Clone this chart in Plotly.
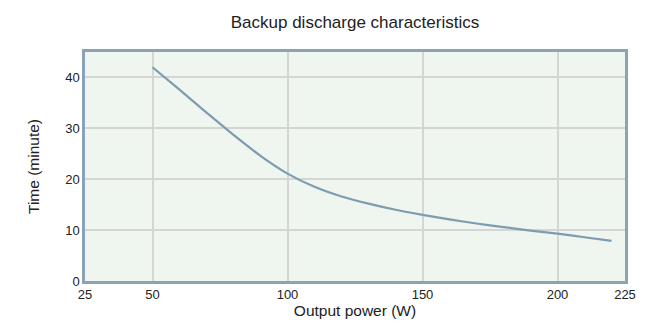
import plotly.graph_objects as go

power_w = [50, 60, 70, 80, 90, 100, 110, 120, 130, 140, 150, 160, 170, 180, 190, 200, 210, 220]
time_min = [42.0, 37.6, 33.1, 28.7, 24.6, 21.1, 18.5, 16.6, 15.2, 14.0, 13.0, 12.1, 11.3, 10.6, 9.9, 9.3, 8.6, 7.9]
x_ticks = [25, 50, 100, 150, 200, 225]
y_ticks = [0, 10, 20, 30, 40]

fig = go.Figure()
fig.add_trace(go.Scatter(
    x=power_w, y=time_min, mode="lines",
    line=dict(color="#7f9bb0", width=2.2, shape="spline", smoothing=0.8),
    showlegend=False,
))

font = "Liberation Sans, Arial, sans-serif"
fig.update_layout(
    width=658, height=325,
    margin=dict(l=77, r=41, t=44, b=52, autoexpand=False),
    paper_bgcolor="white",
    plot_bgcolor="#eff5ef",
    font=dict(family=font, size=12, color="#222"),
    title=dict(text="Backup discharge characteristics", x=0.5, xanchor="center",
               xref="paper", y=1 - 14 / 325, yanchor="middle",
               font=dict(size=17, color="#222", family=font)),
)
fig.update_xaxes(
    range=[25, 225], tickvals=x_ticks, ticktext=[str(v) for v in x_ticks],
    showgrid=True, gridcolor="#d3d6d3", gridwidth=1.5,
    showline=True, linecolor="#8aa3b5", linewidth=2.5, mirror=True,
    zeroline=False, ticks="", ticklen=0, automargin=False,
    title=dict(text="Output power (W)", standoff=2, font=dict(size=15.5)),
    tickfont=dict(size=13),
)
fig.update_yaxes(
    range=[0, 45], tickvals=y_ticks,
    showgrid=True, gridcolor="#d3d6d3", gridwidth=1.5,
    showline=True, linecolor="#8aa3b5", linewidth=2.5, mirror=True,
    zeroline=False, ticks="", ticklen=0, automargin=False,
    title=dict(text="Time (minute)", standoff=22, font=dict(size=15.5)),
    tickfont=dict(size=13),
)

fig.write_html("out.html")
